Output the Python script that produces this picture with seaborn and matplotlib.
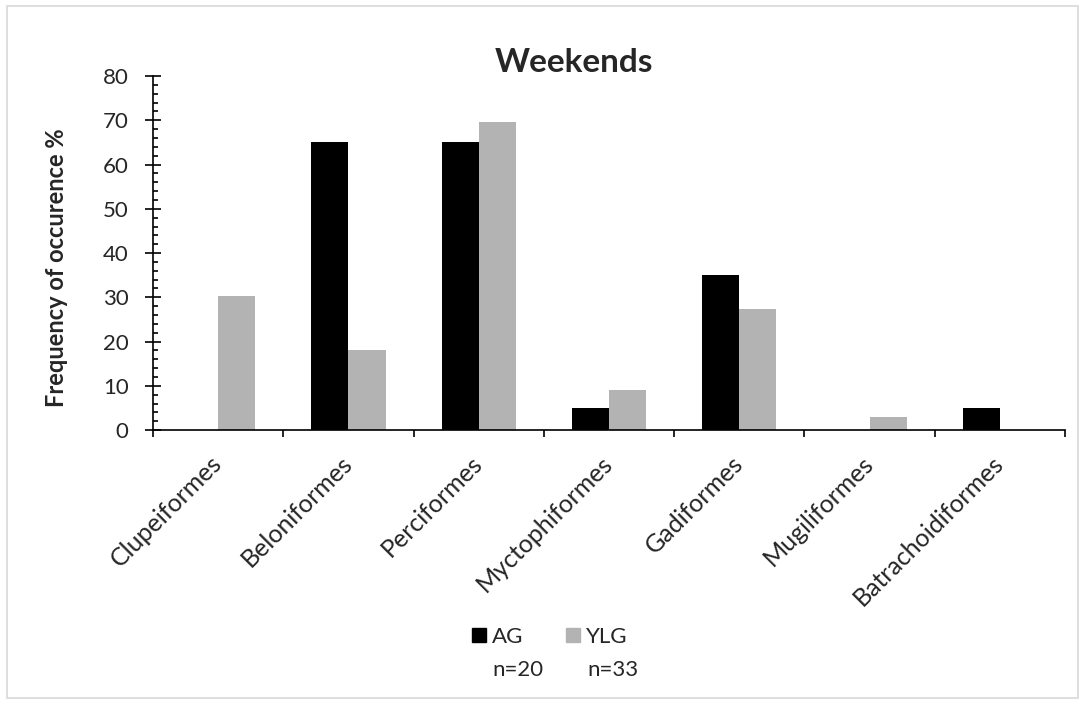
"""
Weekends: frequency of occurrence of fish orders, AG vs YLG
"""
import matplotlib
matplotlib.use("Agg")
import matplotlib.pyplot as plt
import matplotlib.patches as mpatches
from matplotlib.ticker import MultipleLocator, FixedLocator
import pandas as pd
import seaborn as sns

orders = ["Clupeiformes", "Beloniformes", "Perciformes", "Myctophiformes",
          "Gadiformes", "Mugiliformes", "Batrachoidiformes"]
ag = [0, 65, 65, 5, 35, 0, 5]
ylg = [30.3, 18.2, 69.7, 9.1, 27.3, 3.0, 0]
groups = ["AG", "YLG"]
n_counts = ["n=20", "n=33"]
colors = ["#000000", "#b3b3b3"]

df = pd.DataFrame({
    "order": orders * 2,
    "freq": ag + ylg,
    "group": ["AG"] * len(orders) + ["YLG"] * len(orders),
})

sns.set_style("white")
plt.rcParams["font.family"] = ["Lato", "DejaVu Sans"]

fig = plt.figure(figsize=(10.85, 7.04), dpi=100)
ax = fig.add_axes([0.141, 0.389, 0.8406, 0.503])
sns.barplot(data=df, x="order", y="freq", hue="group", order=orders,
            hue_order=groups, palette=colors, width=0.57, saturation=1,
            edgecolor="none", linewidth=0, ax=ax, legend=False)

ax.set_xlim(-0.5, len(orders) - 0.5)
ax.set_ylim(0, 80)
ax.yaxis.set_major_locator(MultipleLocator(10))
ax.yaxis.set_minor_locator(MultipleLocator(2))
ax.tick_params(axis="y", which="major", direction="inout", length=11, width=1.2,
               labelsize=16, color="black", pad=12, left=True)
ax.tick_params(axis="y", which="minor", direction="in", length=3.8, width=1.2,
               color="black", left=True)
# category borders as major ticks, labels at centers
ax.xaxis.set_major_locator(FixedLocator([i - 0.5 for i in range(len(orders) + 1)]))
ax.xaxis.set_minor_locator(FixedLocator(range(len(orders))))
ax.set_xticklabels([], minor=False)
ax.set_xticklabels(orders, minor=True, rotation=45, ha="right", va="center",
                   rotation_mode="anchor", fontsize=18)
ax.tick_params(axis="x", which="major", direction="out", length=5, width=1.2,
               color="black", bottom=True)
ax.tick_params(axis="x", which="minor", length=0, pad=21)

for s in ["top", "right"]:
    ax.spines[s].set_visible(False)
for s in ["left", "bottom"]:
    ax.spines[s].set_color("black")
    ax.spines[s].set_linewidth(1.2)

ax.set_xlabel("")
ax.set_ylabel("Frequency of occurence %", fontsize=17, fontweight="bold")
ax.yaxis.set_label_coords(-0.093, 0.458)
ax.set_title("Weekends", fontsize=24, fontweight="bold", pad=3, x=0.462)

handles = [mpatches.Patch(color=c, label=g) for c, g in zip(colors, groups)]
fig.legend(handles=handles, loc="center left", bbox_to_anchor=(0.435, 0.095), ncol=2,
           frameon=False, fontsize=16, handlelength=0.62, handleheight=0.62,
           handletextpad=0.3, columnspacing=1.9, borderpad=0, borderaxespad=0)
for i, t in enumerate(n_counts):
    fig.text([0.4535, 0.541][i], 0.048, t, fontsize=16, ha="left", va="center")

fig.patches.append(mpatches.Rectangle((0.006, 0.008), 0.988, 0.984, transform=fig.transFigure,
                                      fill=False, edgecolor="#d9d9d9", linewidth=1.2))

fig.savefig("out.png", dpi=100)
